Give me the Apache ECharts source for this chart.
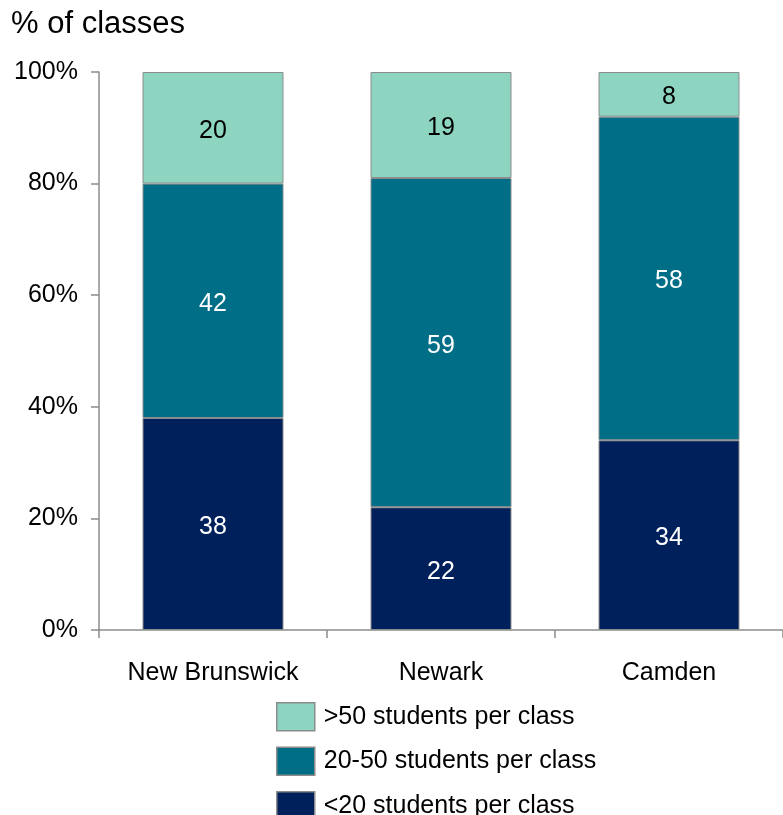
<!DOCTYPE html>
<html><head><meta charset="utf-8">
<script src="https://cdn.jsdelivr.net/npm/echarts@6/dist/echarts.min.js"></script>
<style>html,body{margin:0;padding:0;background:#fff}#c{width:783px;height:815px}</style>
</head><body><div id="c"></div>
<script>
const categories = ['New Brunswick', 'Newark', 'Camden'];
const under20 = [38, 22, 34];
const mid20to50 = [42, 59, 58];
const over50 = [20, 19, 8];
const yTicks = [0, 20, 40, 60, 80, 100];
const names = ['<20 students per class', '20-50 students per class', '>50 students per class'];

const F = 'Liberation Sans, Arial, sans-serif';
const chart = echarts.init(document.getElementById('c'));
function s(name, data, color, labelColor) {
  return {
    name, type: 'bar', stack: 'a', data, barWidth: 141,
    itemStyle: { color, borderColor: '#8c8c8c', borderWidth: 1 },
    label: { show: true, position: 'inside', offset: [0, 3], color: labelColor, fontFamily: F, fontSize: 25 }
  };
}
chart.setOption({
  animation: false,
  title: { text: '% of classes', left: 11, top: 9, padding: 0, textStyle: { fontFamily: F, fontSize: 31, fontWeight: 'normal', color: '#000' } },
  grid: { left: 99, right: 0, top: 72, bottom: 185, containLabel: false },
  legend: {
    orient: 'vertical', left: 276, top: 702, padding: 0, height: 120, itemWidth: 38, itemHeight: 28, itemGap: 15,
    icon: 'rect',
    data: [names[2], names[1], names[0]],
    textStyle: { fontFamily: F, fontSize: 25, color: '#000', padding: [0, 0, 0, 4] },
    itemStyle: { borderColor: '#8c8c8c', borderWidth: 1.5 }
  },
  xAxis: {
    type: 'category', data: categories,
    axisLine: { lineStyle: { color: '#8c8c8c', width: 1.5 } },
    axisTick: { show: true, length: 8, lineStyle: { color: '#8c8c8c', width: 1.5 } },
    axisLabel: { fontFamily: F, fontSize: 25, color: '#000', margin: 31 }
  },
  yAxis: {
    type: 'value', min: 0, max: 100, interval: 20,
    axisLine: { show: true, lineStyle: { color: '#8c8c8c', width: 1.5 } },
    axisTick: { show: true, length: 8, lineStyle: { color: '#8c8c8c', width: 1.5 } },
    splitLine: { show: false },
    axisLabel: { fontFamily: F, fontSize: 25, color: '#000', margin: 21, formatter: v => yTicks.includes(v) ? v + '%' : '' }
  },
  series: [
    s(names[0], under20, '#00205b', '#fff'),
    s(names[1], mid20to50, '#006e87', '#fff'),
    s(names[2], over50, '#8dd5c0', '#000')
  ]
});
</script></body></html>
